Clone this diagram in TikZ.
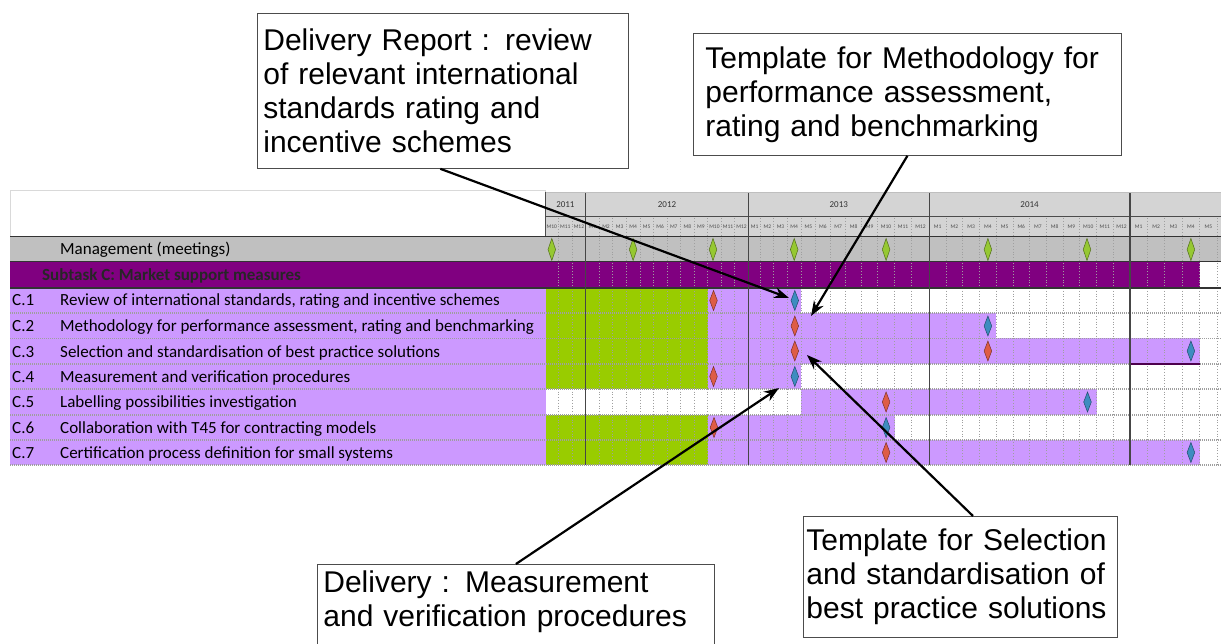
\documentclass[tikz,border=0pt]{standalone}
\usepackage{fontspec}
\setmainfont{Liberation Sans}
\newfontfamily\calfont{Carlito}
\usetikzlibrary{arrows.meta,calc}
\definecolor{lpurple}{RGB}{204,153,255}
\definecolor{dpurple}{RGB}{128,0,128}
\definecolor{ggreen}{RGB}{153,204,0}
\definecolor{mgrey}{RGB}{192,192,192}
\definecolor{hgrey}{RGB}{212,212,212}
\definecolor{dred}{RGB}{222,92,70}
\definecolor{dblue}{RGB}{62,140,192}
\definecolor{dgreen}{RGB}{150,200,50}
\newcommand\msdia[4]{\filldraw[fill=#3, draw=#3!55!black, line width=0.5pt] (#1,#2-#4) -- (#1+3.8,#2) -- (#1,#2+#4) -- (#1-3.8,#2) -- cycle;}
\begin{document}
\begin{tikzpicture}[x=1pt,y=-1pt,
  callout/.style={draw=black!70, line width=0.8pt, fill=white, align=left, anchor=north west, inner xsep=6pt, inner ysep=4pt, font=\fontsize{30}{34}\selectfont},
  arr/.style={-{Stealth[length=15pt,width=11pt]}, line width=2.2pt, black},
  lbl/.style={anchor=base west, inner sep=0pt, font=\calfont\fontsize{17}{20}\selectfont},
  mlab/.style={inner sep=0pt, font=\calfont\fontsize{5.5}{6}\selectfont, text=black!70},
  ylab/.style={inner sep=0pt, font=\calfont\fontsize{9}{10}\selectfont, text=black!80},
  mdot/.style={gray!75, dotted, line width=0.8pt},
  rowsep/.style={gray!75, dash pattern=on 1pt off 1pt, line width=1.2pt},
  yearline/.style={gray!55!black, line width=1.2pt}]
\useasboundingbox (0,0) rectangle (1221,644);
\clip (0,0) rectangle (1221,644);
\fill[white] (0,0) rectangle (1221,644);
% header
\draw[gray!30, fill=white] (10,190) rectangle (545,236);
\fill[hgrey] (545,192) rectangle (1221,236);
\draw[gray!60!black, line width=1pt] (545,217) -- (1221,217);
% rows background
\fill[mgrey] (10,237) rectangle (1221,262);
\fill[dpurple] (10,262) rectangle (1199.6,288);
\fill[lpurple] (10,288) rectangle (546,465);
% bars C.1 .. C.7
\fill[ggreen] (546,288) rectangle (707.6,313);
\fill[lpurple] (707.6,288) rectangle (801.1,313);
\fill[ggreen] (546,313) rectangle (707.6,338.5);
\fill[lpurple] (707.6,313) rectangle (996.2,338.5);
\fill[ggreen] (546,338.5) rectangle (707.6,364);
\fill[lpurple] (707.6,338.5) rectangle (1199.6,364);
\fill[ggreen] (546,364) rectangle (707.6,389);
\fill[lpurple] (707.6,364) rectangle (801.1,389);
\fill[lpurple] (801.1,389) rectangle (1096.5,415);
\fill[ggreen] (546,415) rectangle (707.6,440);
\fill[lpurple] (707.6,415) rectangle (894.5,440);
\fill[ggreen] (546,440) rectangle (707.6,465);
\fill[lpurple] (707.6,440) rectangle (1199.6,465);
% month grid and labels
\foreach \a/\b/\m [count=\i] in {545/558.6/M10, 558.6/572.1/M11, 572.1/585.7/M12,
  585.7/599.2/M1, 599.2/612.8/M2, 612.8/626.3/M3, 626.3/639.9/M4, 639.9/653.4/M5, 653.4/667.0/M6, 667.0/680.5/M7, 680.5/694.1/M8, 694.1/707.6/M9, 707.6/721.2/M10, 721.2/734.7/M11, 734.7/748.3/M12,
  748.3/760.8/M1, 760.8/773.8/M2, 773.8/787.2/M3, 787.2/801.1/M4, 801.1/815.5/M5, 815.5/830.4/M6, 830.4/845.7/M7, 845.7/861.5/M8, 861.5/877.7/M9, 877.7/894.5/M10, 894.5/911.7/M11, 911.7/929.3/M12,
  929.3/946.0/M1, 946.0/962.7/M2, 962.7/979.5/M3, 979.5/996.2/M4, 996.2/1012.9/M5, 1012.9/1029.6/M6, 1029.6/1046.3/M7, 1046.3/1063.1/M8, 1063.1/1079.8/M9, 1079.8/1096.5/M10, 1096.5/1113.2/M11, 1113.2/1130/M12,
  1130/1147.4/M1, 1147.4/1164.8/M2, 1164.8/1182.2/M3, 1182.2/1199.6/M4, 1199.6/1217/M5}{
  \draw[mdot] (\b,218) -- (\b,465);
  \node[mlab] (m\i) at ({(\a+\b)/2},227) {\m};
}
% horizontal lines
\draw[gray!40!black, line width=1.6pt] (10,236.5) -- (1221,236.5);
\draw[gray!40!black, line width=1pt] (10,262) -- (1221,262);
\draw[gray!40!black, line width=1.2pt] (10,288) -- (1221,288);
\foreach \y in {313,338.5,364,389,415,440,465}{\draw[rowsep] (10,\y) -- (1221,\y);}
\draw[dpurple!60!black, line width=1.5pt] (1130,364) -- (1199.6,364);
% year lines and labels
\foreach \x in {585.7,748.3,929.3,1130}{\draw[yearline] (\x,192) -- (\x,465);}
\draw[gray!50, line width=0.8pt] (545,192) -- (1221,192);
\draw[gray!60!black, line width=0.8pt] (545,192) -- (545,236);
\node[ylab] (y11) at (565.4,205) {2011};
\node[ylab] (y12) at (667,205) {2012};
\node[ylab] (y13) at (838.8,205) {2013};
\node[ylab] (y14) at (1029.6,205) {2014};
% row labels
\node[lbl] (mg) at (60,255) {Management (meetings)};
\node[lbl, font=\calfont\bfseries\fontsize{17}{20}\selectfont, text=black!85] (st) at (42,281) {Subtask C: Market support measures};
\node[lbl] (c1n) at (12,306) {C.1};
\node[lbl] (c1t) at (60,306) {Review of international standards, rating and incentive schemes};
\node[lbl] (c2n) at (12,331.5) {C.2};
\node[lbl] (c2t) at (60,331.5) {Methodology for performance assessment, rating and benchmarking};
\node[lbl] (c3n) at (12,357) {C.3};
\node[lbl] (c3t) at (60,357) {Selection and standardisation of best practice solutions};
\node[lbl] (c4n) at (12,382) {C.4};
\node[lbl] (c4t) at (60,382) {Measurement and verification procedures};
\node[lbl] (c5n) at (12,407.5) {C.5};
\node[lbl] (c5t) at (60,407.5) {Labelling possibilities investigation};
\node[lbl] (c6n) at (12,433) {C.6};
\node[lbl] (c6t) at (60,433) {Collaboration with T45 for contracting models};
\node[lbl] (c7n) at (12,458) {C.7};
\node[lbl] (c7t) at (60,458) {Certification process definition for small systems};
% milestones
\foreach \x in {551.8,633.1,713,794.2,886.1,987.9,1087,1190.9}{\msdia{\x}{249.5}{dgreen}{11}}
\msdia{713.5}{300.5}{dred}{10}\msdia{794.8}{300.5}{dblue}{10}
\msdia{794.8}{326}{dred}{10}\msdia{987.9}{326}{dblue}{10}
\msdia{794.8}{351}{dred}{10}\msdia{987.9}{351}{dred}{10}\msdia{1190.9}{351}{dblue}{10}
\msdia{713.5}{376.5}{dred}{10}\msdia{794.8}{376.5}{dblue}{10}
\msdia{886.1}{402}{dred}{10}\msdia{1087.5}{402}{dblue}{10}
\msdia{714}{427.5}{dred}{10}\msdia{886.1}{427.5}{dblue}{10}
\msdia{886.1}{452.5}{dred}{10}\msdia{1190.9}{452.5}{dblue}{10}
% callouts
\node[callout, text width=359pt, minimum height=155pt] (b1) at (257,13) {Delivery Report : review\\of relevant international\\standards rating and\\incentive schemes};
\node[callout, text width=404pt, inner xsep=12pt, minimum height=122pt] (b2) at (693,33) {Template for Methodology for\\performance assessment,\\rating and benchmarking};
\node[callout, text width=385pt, inner ysep=6pt] (b3) at (317,564) {Delivery : Measurement\\and verification procedures\rule[-40pt]{0pt}{40pt}};
\node[callout, text width=308pt, inner xsep=3pt, minimum height=121pt] (b4) at (803,516) {Template for Selection\\and standardisation of\\best practice solutions};
\coordinate (t1) at (789,298);
\coordinate (t2) at (811,316);
\coordinate (t3) at (779,388);
\coordinate (t4) at (807,355);
\draw[arr] ($(b1.south west)!0.493!(b1.south east)$) -- (t1);
\draw[arr] (b2.south) -- (t2);
\draw[arr] (b3.north) -- (t3);
\draw[arr] ($(b4.north west)!0.54!(b4.north east)$) -- (t4);
\end{tikzpicture}
\end{document}
